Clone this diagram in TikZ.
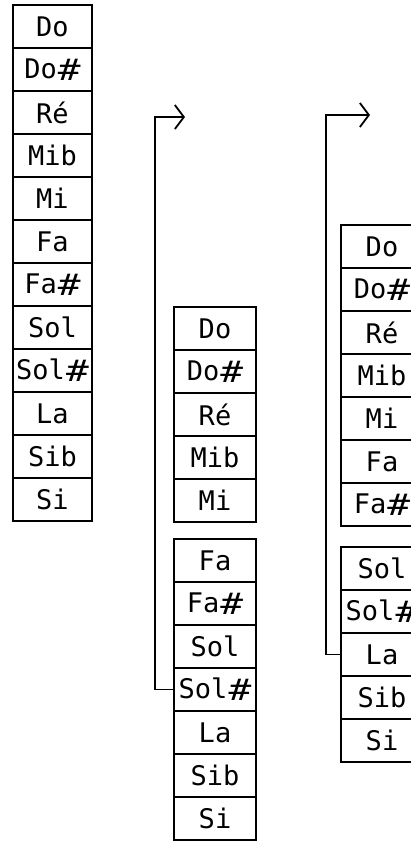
\documentclass[tikz,border=0pt]{standalone}
\usepackage{fontspec}
\usepackage{graphicx}
\setmonofont{DejaVu Sans Mono}
\usetikzlibrary{arrows.meta}
\newcommand\dieze{\kern1pt\raisebox{-2pt}{\scalebox{1.4}[1.1]{\#}}}
\begin{document}
\begin{tikzpicture}[x=1pt,y=-1pt,
  every node/.style={font=\ttfamily\fontsize{27}{27}\selectfont},
  note/.style={draw,line width=1.6pt,inner sep=0pt,minimum height=43pt,anchor=center},
  noteA/.style={note,minimum width=79pt},
  noteB/.style={note,minimum width=82pt},
  link/.style={line width=1.8pt,-{Straight Barb[length=9pt,width=24pt,line width=1.8pt]}}]
  \useasboundingbox (0,0) rectangle (411,841);
  \clip (0,0) rectangle (411,841);
  % first column: the twelve notes
  \node[noteA] (do1) at (52.5,26.5) {Do};
  \node[noteA] (dod1) at (52.5,69.5) {Do\dieze};
  \node[noteA] (re1) at (52.5,112.5) {Ré};
  \node[noteA] (mib1) at (52.5,155.5) {Mib};
  \node[noteA] (mi1) at (52.5,198.5) {Mi};
  \node[noteA] (fa1) at (52.5,241.5) {Fa};
  \node[noteA] (fad1) at (52.5,284.5) {Fa\dieze};
  \node[noteA] (sol1) at (52.5,327.5) {Sol};
  \node[noteA] (sold1) at (52.5,370.5) {Sol\dieze};
  \node[noteA] (la1) at (52.5,413.5) {La};
  \node[noteA] (sib1) at (52.5,456.5) {Sib};
  \node[noteA] (si1) at (52.5,499.5) {Si};
  % second column, cut after Mi
  \node[noteB] (do2) at (215,328.5) {Do};
  \node[noteB] (dod2) at (215,371.5) {Do\dieze};
  \node[noteB] (re2) at (215,414.5) {Ré};
  \node[noteB] (mib2) at (215,457.5) {Mib};
  \node[noteB] (mi2) at (215,500.5) {Mi};
  \node[noteB] (fa2) at (215,560.5) {Fa};
  \node[noteB] (fad2) at (215,603.5) {Fa\dieze};
  \node[noteB] (sol2) at (215,646.5) {Sol};
  \node[noteB] (sold2) at (215,689.5) {Sol\dieze};
  \node[noteB] (la2) at (215,732.5) {La};
  \node[noteB] (sib2) at (215,775.5) {Sib};
  \node[noteB] (si2) at (215,818.5) {Si};
  % third column, cut after Fa#
  \node[noteB] (do3) at (382,246.5) {Do};
  \node[noteB] (dod3) at (382,289.5) {Do\dieze};
  \node[noteB] (re3) at (382,332.5) {Ré};
  \node[noteB] (mib3) at (382,375.5) {Mib};
  \node[noteB] (mi3) at (382,418.5) {Mi};
  \node[noteB] (fa3) at (382,461.5) {Fa};
  \node[noteB] (fad3) at (382,504.5) {Fa\dieze};
  \node[noteB] (sol3) at (382,568.5) {Sol};
  \node[noteB] (sold3) at (382,611.5) {Sol\dieze};
  \node[noteB] (la3) at (382,654.5) {La};
  \node[noteB] (sib3) at (382,697.5) {Sib};
  \node[noteB] (si3) at (382,740.5) {Si};
  % connectors going back to the top
  \coordinate (bend2) at (155,117); \coordinate (tip2) at (185,117);
  \coordinate (bend3) at (326,115); \coordinate (tip3) at (370,115);
  \draw[link] (sold2.west) -| (bend2) -- (tip2);
  \draw[link] (la3.west) -| (bend3) -- (tip3);
\end{tikzpicture}
\end{document}
